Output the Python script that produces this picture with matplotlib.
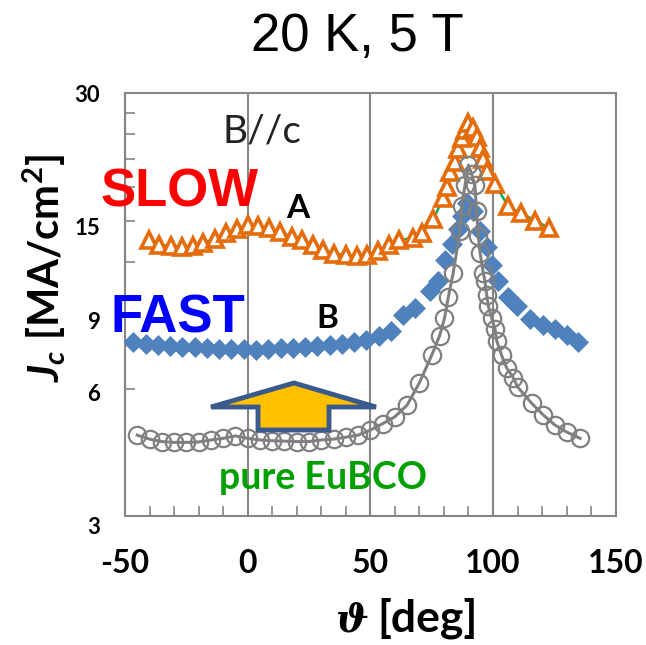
import matplotlib
matplotlib.use("Agg")
import matplotlib.pyplot as plt
from matplotlib.ticker import FixedLocator, FixedFormatter, NullFormatter
from matplotlib.patches import Polygon
import matplotlib.transforms as mtransforms

# ---------------- data ----------------
slow_x = [-40.1, -36.0, -31.4, -26.9, -22.4, -18.1, -13.3, -8.8, -4.5, 0.0, 4.3, 8.7,
          13.2, 17.9, 22.3, 26.5, 30.8, 35.3, 40.0, 44.4, 48.8, 53.3, 57.7, 61.8,
          67.5, 70.9, 75.7, 79.7, 81.1, 82.5, 84.5, 85.9, 87.2, 88.6, 90.0, 92.0,
          93.3, 94.7, 96.0, 97.4, 100.8, 106.2, 111.6, 117.1, 122.9]
slow_y = [13.48, 13.12, 13.05, 13.0, 13.05, 13.28, 13.6, 14.03, 14.36, 14.62, 14.55, 14.44,
          14.1, 13.72, 13.48, 13.12, 12.76, 12.53, 12.42, 12.35, 12.42, 12.71, 13.12, 13.48,
          13.65, 14.0, 15.1, 17.0, 18.0, 19.5, 20.6, 22.2, 23.5, 24.6, 25.5, 24.9,
          23.7, 22.3, 21.0, 19.7, 18.3, 16.2, 15.6, 15.0, 14.4]

fast_x = [-46.6, -41.6, -36.6, -31.6, -26.6, -21.6, -16.6, -11.6, -6.6, -1.6, 3.4, 8.4,
          13.4, 18.4, 23.4, 28.4, 33.4, 38.4, 43.4, 48.4, 53.4, 58.4, 63.4, 68.4,
          74.3, 77.7, 80.4, 83.1, 85.9, 87.2, 89.3, 92.0, 94.7, 97.4, 99.5, 102.2,
          106.2, 109.6, 115.1, 120.5, 125.3, 130.0, 134.8]
fast_y = [7.73, 7.66, 7.6, 7.57, 7.55, 7.53, 7.5, 7.47, 7.46, 7.44, 7.42, 7.46,
          7.48, 7.5, 7.53, 7.57, 7.6, 7.66, 7.75, 7.84, 8.0, 8.2, 8.95, 9.3,
          10.2, 10.8, 12.1, 13.2, 14.3, 15.4, 16.5, 15.8, 14.2, 13.0, 11.8, 10.8,
          9.9, 9.4, 8.75, 8.5, 8.3, 8.05, 7.75]

pure_x = [-45, -40, -35, -30, -25, -20, -15, -10, -5, 0, 5, 10, 15, 20, 25, 30, 35, 40,
          45, 50, 55, 60, 65, 70, 75, 78.2, 80.2, 81.8, 83.8, 86.5, 87.2, 88.6, 90.0,
          91.3, 92.6, 93.3, 94.0, 94.7, 96.0, 96.7, 97.4, 98.1, 99.5, 100.8, 101.5,
          103.5, 105.5, 108.3, 110.0, 115.8, 120.5, 125.3, 130.0, 135.5]
pure_y = [4.66, 4.56, 4.5, 4.48, 4.48, 4.49, 4.54, 4.58, 4.64, 4.58, 4.54, 4.52, 4.51,
          4.5, 4.5, 4.54, 4.56, 4.61, 4.66, 4.79, 4.96, 5.15, 5.49, 6.2, 7.2, 8.0, 8.8,
          9.9, 11.3, 14.2, 16.2, 18.2, 20.3, 19.3, 18.2, 15.8, 13.8, 12.6, 11.3, 10.8,
          10.0, 9.4, 8.8, 8.3, 7.8, 7.2, 6.73, 6.36, 6.06, 5.54, 5.2, 4.92, 4.74, 4.58]

xtick_vals = [-50, 0, 50, 100, 150]
xtick_labels = ["-50", "0", "50", "100", "150"]
xminor_vals = list(range(-40, 150, 10))
ytick_vals = [3, 6, 9, 15, 30]
ytick_labels = ["3", "6", "9", "15", "30"]
yminor_vals = [12, 18, 21, 24, 27]

# ---------------- style ----------------
plt.rcParams["font.family"] = ["Lato", "DejaVu Sans"]
plt.rcParams["mathtext.fontset"] = "custom"
plt.rcParams["mathtext.it"] = "Lato:italic:bold"
plt.rcParams["mathtext.rm"] = "Lato:bold"
plt.rcParams["mathtext.bf"] = "Lato:bold"

W, H = 646, 645
fig = plt.figure(figsize=(W / 100, H / 100), dpi=100)

def fx(px):
    return px / W

def fy(py):
    return 1 - py / H

ax = fig.add_axes([fx(125), fy(516), (615.7 - 125) / W, (516 - 93.3) / H])
ax.set_xlim(-50, 150)
ax.set_yscale("log")
ax.set_ylim(3, 30)

frame_col = "#868686"
for s in ax.spines.values():
    s.set_color(frame_col)
    s.set_linewidth(1.5)

ax.xaxis.set_major_locator(FixedLocator(xtick_vals))
ax.xaxis.set_major_formatter(FixedFormatter(xtick_labels))
ax.xaxis.set_minor_locator(FixedLocator(xminor_vals))
ax.xaxis.set_minor_formatter(NullFormatter())
ax.yaxis.set_major_locator(FixedLocator(ytick_vals))
ax.yaxis.set_major_formatter(FixedFormatter(ytick_labels))
ax.yaxis.set_minor_locator(FixedLocator(yminor_vals))
ax.yaxis.set_minor_formatter(NullFormatter())

ax.tick_params(axis="both", which="both", direction="in", length=7, width=1.2,
               color=frame_col)
ax.tick_params(axis="x", which="major", labelsize=23, pad=24)
ax.tick_params(axis="y", which="major", labelsize=16, pad=18)
for lab in ax.get_xticklabels() + ax.get_yticklabels():
    lab.set_fontweight("bold")

ax.xaxis.grid(True, which="major", color=frame_col, linewidth=1.5)
ax.set_axisbelow(True)

# series
ax.plot(slow_x, slow_y, color="#00B050", linewidth=1.8, marker="^", markersize=12,
        markerfacecolor="white", markeredgecolor="#E46C0A", markeredgewidth=2.6, zorder=3)
ax.plot(fast_x, fast_y, linestyle="none", marker="D", markersize=10.5,
        markerfacecolor="#4F81BD", markeredgecolor="#4F81BD", markeredgewidth=0.5, zorder=4)
ax.plot(pure_x, pure_y, color="#808080", linewidth=2.2, marker="o", markersize=12.5,
        markerfacecolor="none", markeredgecolor="#808080", markeredgewidth=1.6, zorder=5)

# y tick label vertical nudges (px)
for lab, off in zip(ax.get_yticklabels(), [10, 4, 6, 6, 0]):
    lab.set_transform(lab.get_transform() +
                      mtransforms.ScaledTranslation(0, -off / 100, fig.dpi_scale_trans))

# ---------------- texts ----------------
fig.text(fx(357), fy(37), "20 K, 5 T", family="Liberation Sans", fontsize=38,
         ha="center", va="center")
fig.text(fx(262), fy(132), "B//c", fontsize=28, ha="center", va="center", color="#222222")
fig.text(fx(179), fy(193), "SLOW", family="Liberation Sans", fontweight="bold",
         fontsize=38, color="#FF0000", ha="center", va="center")
fig.text(fx(298), fy(208), "A", fontweight="bold", fontsize=24, ha="center", va="center")
fig.text(fx(178), fy(318), "FAST", family="Liberation Sans", fontweight="bold",
         fontsize=38, color="#0000FF", ha="center", va="center")
fig.text(fx(327), fy(318), "B", fontweight="bold", fontsize=24, ha="center", va="center")
fig.text(fx(323), fy(478), "pure EuBCO", fontweight="bold", fontsize=27,
         color="#00A000", ha="center", va="center")

# axis labels
fig.text(fx(44), fy(268), r"$J_c$ [MA/cm$^{2}$]", fontweight="bold", fontsize=30,
         rotation=90, ha="center", va="center")
fig.text(fx(352), fy(620), "\u03d1", family="DejaVu Serif", style="italic",
         fontweight="bold", fontsize=28, ha="center", va="center")
fig.text(fx(428), fy(618), "[deg]", fontweight="bold", fontsize=32,
         ha="center", va="center")

# arrow
arrow_px = [(294, 383), (376, 407), (329, 407), (329, 430), (258, 430), (258, 407), (211, 407)]
arrow = Polygon([(fx(x), fy(y)) for x, y in arrow_px], closed=True,
                transform=fig.transFigure, facecolor="#FFC000", edgecolor="#3A5A8C",
                linewidth=3.5, joinstyle="miter", zorder=10)
fig.patches.append(arrow)

fig.savefig("out.png", dpi=100)
